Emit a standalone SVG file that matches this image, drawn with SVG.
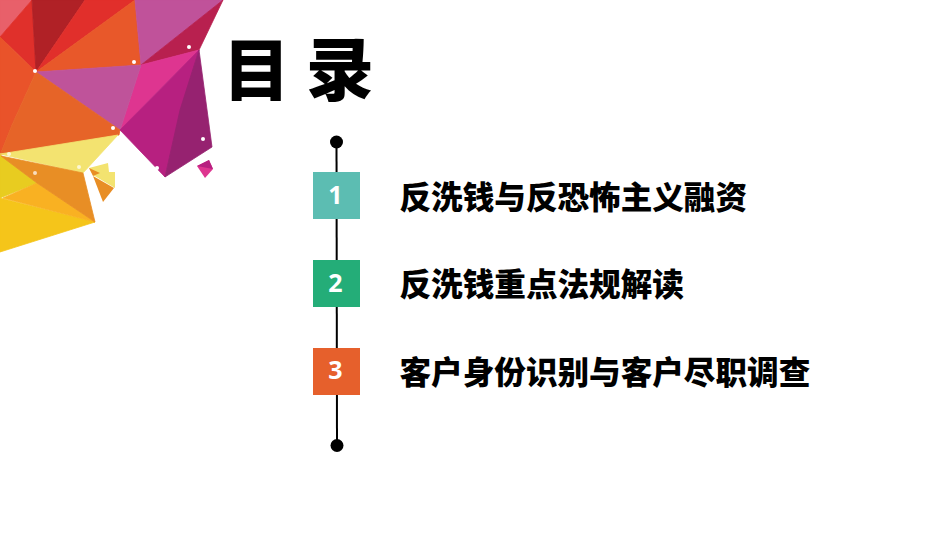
<svg xmlns="http://www.w3.org/2000/svg" width="950" height="535" viewBox="0 0 950 535">
<style>
.t{font-family:"Noto Sans CJK SC","Noto Sans",sans-serif;font-weight:900;fill:#000}
.i{font-size:31.600px}
.n{font-family:"Open Sans","Noto Sans",sans-serif;font-weight:700;font-size:25px;fill:#fff;text-anchor:middle}
.d{fill:#fff}
.e{fill:#000}
polygon{stroke-width:.8;stroke-linejoin:round}
</style>
<rect width="950" height="535" fill="#fff"/>
<g id="decoration">
<polygon points="0,0 32,0 0,37" fill="#e8606a" stroke="#e8606a"/>
<polygon points="32,0 0,37 36,72" fill="#e0302b" stroke="#e0302b"/>
<polygon points="32,0 85,0 36,72" fill="#b02126" stroke="#b02126"/>
<polygon points="85,0 135,0 36,72" fill="#e12f2b" stroke="#e12f2b"/>
<polygon points="135,0 141,65 36,72" fill="#e8582a" stroke="#e8582a"/>
<polygon points="135,0 223,0 141,65" fill="#c0529a" stroke="#c0529a"/>
<polygon points="223,0 199,50 141,65" fill="#b8204f" stroke="#b8204f"/>
<polygon points="141,65 199,50 120,130" fill="#de3590" stroke="#de3590"/>
<polygon points="36,72 141,65 120,130" fill="#bf539a" stroke="#bf539a"/>
<polygon points="0,37 36,72 12,125 0,155" fill="#e9532a" stroke="#e9532a"/>
<polygon points="36,72 120,130 119,135 0,155 12,125" fill="#e66428" stroke="#e66428"/>
<polygon points="199,50 120,130 165,177 180,115" fill="#b72080" stroke="#b72080"/>
<polygon points="199,50 212,147 165,177 180,110" fill="#962270" stroke="#962270"/>
<polygon points="118,135 0,154 83,173" fill="#f3e370" stroke="#f3e370"/>
<polygon points="0,155 37,183 0,198" fill="#e8cc20" stroke="#e8cc20"/>
<polygon points="0,198 95,222 0,252" fill="#f5c51a" stroke="#f5c51a"/>
<polygon points="37,183 95,222 3,198" fill="#f9b122" stroke="#f9b122"/>
<polygon points="1,156 83,173 95,222 37,183" fill="#e88e25" stroke="#e88e25"/>
<polygon points="89,168 108,163 109,172 115,172 115,188 93,175" fill="#f3e370"/>
<polygon points="89,168 100,173 93,176" fill="#e88e25"/>
<polygon points="93,176 114,188 103,202" fill="#e88e25"/>
<polygon points="197,166 209,160 213,169 205,178" fill="#de3590"/>
<polygon points="197,166 209,160 213,169" fill="#b72080"/>
<circle class="d" cx="35" cy="71" r="2"/>
<circle class="d" cx="134" cy="62" r="2"/>
<circle class="d" cx="189" cy="47" r="2"/>
<circle class="d" cx="113" cy="128" r="2"/>
<circle class="d" cx="203" cy="139" r="2"/>
<circle class="d" cx="157" cy="168" r="2"/>
<circle class="d" cx="79" cy="167" r="2" opacity=".7"/>
<circle class="d" cx="35" cy="173" r="2" opacity=".7"/>
<circle class="d" cx="9" cy="154" r="2" opacity=".7"/>
</g>
<text id="title" class="t" x="223" y="95" font-size="67">目</text>
<text id="title2" class="t" x="306" y="95" font-size="68">录</text>
<g id="connectors">
<line x1="336.500" y1="142" x2="337" y2="445" stroke="#000" stroke-width="2"/>
</g>
<g id="end-top"><circle class="e" cx="336.500" cy="142" r="6.500"/></g>
<g id="end-bottom"><circle class="e" cx="337" cy="445.500" r="6.500"/></g>
<g id="item1">
<rect x="313" y="172" width="47" height="47" fill="#5cbdb2"/>
<text class="n" x="335.500" y="204">1</text>
<text class="t i" x="399.500" y="209">反洗钱与反恐怖主义融资</text>
</g>
<g id="item2">
<rect x="313" y="260" width="47" height="47" fill="#24ad78"/>
<text class="n" x="335.500" y="292">2</text>
<text class="t i" x="399.500" y="296">反洗钱重点法规解读</text>
</g>
<g id="item3">
<rect x="313" y="348" width="47" height="47" fill="#e6602c"/>
<text class="n" x="335.500" y="379">3</text>
<text class="t i" x="399.500" y="384">客户身份识别与客户尽职调查</text>
</g>
</svg>
